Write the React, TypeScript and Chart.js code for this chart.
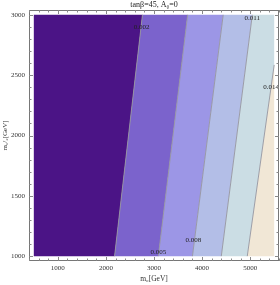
import React, { useEffect, useRef } from "react";
import { Chart, registerables } from "chart.js";

Chart.register(...registerables);

// Domain of the contour plot
const m0Range = [500, 5500];
const m12Range = [1000, 3000];
// Axis (frame) range incl. padding
const xAxisRange = [400, 5600];
const yAxisRange = [960, 3040];

const xTickLabels = [1000, 2000, 3000, 4000, 5000];
const yTickLabels = [1000, 1500, 2000, 2500, 3000];
const xMinorStep = 200;
const yMinorStep = 100;

// Contour boundaries [m0, m12], bottom to top
const contourLevels = ["0.002", "0.005", "0.008", "0.011", "0.014"];
const boundary1 = [[2180, 1000], [2760, 3000]];
const boundary2 = [[3090, 1000], [3700, 3000]];
const boundary3 = [[3800, 1000], [4440, 3000]];
const boundary4 = [[4400, 1000], [5045, 3000]];
const boundary5 = [[4940, 1000], [5500, 2585]];
const boundaries = [boundary1, boundary2, boundary3, boundary4, boundary5];

// Label anchor positions [m0, m12]
const labelPositions = [[2740, 2895], [3093, 1031], [3820, 1130], [5044, 2973], [5438, 2400]];

const regionColors = ["#4b1486", "#7b63cc", "#9c96e6", "#b3bee7", "#cbdde4", "#f1e7d6"];

const serif = "'Liberation Serif', 'DejaVu Serif', serif";

function closeBoundary(b: number[][]) {
  const pts = b.map((p) => [p[0], p[1]]);
  const last = pts[pts.length - 1];
  if (last[1] < m12Range[1]) pts.push([m0Range[1], m12Range[1]]);
  return pts;
}

export default function App() {
  const ref = useRef<HTMLCanvasElement>(null);
  useEffect(() => {
    if (!ref.current) return;
    const leftEdge = [[m0Range[0], m12Range[0]], [m0Range[0], m12Range[1]]];
    const rightEdge = [[m0Range[1], m12Range[0]], [m0Range[1], m12Range[1]]];
    const edges = [leftEdge, ...boundaries.map(closeBoundary), rightEdge];
    const regionSets: any[] = [];
    for (let i = 0; i < edges.length - 1; i++) {
      const l = edges[i];
      const r = edges[i + 1].slice().reverse();
      const pts = [...l, ...r, l[0]].map((p) => ({ x: p[0], y: p[1] }));
      regionSets.push({
        data: pts,
        backgroundColor: regionColors[i],
        borderWidth: 0,
        borderColor: regionColors[i],
        pointRadius: 0,
        fill: "shape",
        tension: 0,
        order: 2,
      });
    }
    const lineSets = boundaries.map((b) => ({
      data: b.map((p) => ({ x: p[0], y: p[1] })),
      borderColor: "rgba(150,150,160,0.9)",
      borderWidth: 1,
      pointRadius: 0,
      fill: false,
      tension: 0,
      order: 1,
    }));

    const framePlugin = {
      id: "frame",
      afterDatasetsDraw(chart: any) {
        const { ctx, chartArea: a, scales } = chart;
        const xs = scales.x;
        const ys = scales.y;
        ctx.save();
        // contour labels
        ctx.fillStyle = "#222";
        ctx.font = `7px ${serif}`;
        ctx.textAlign = "center";
        ctx.textBaseline = "middle";
        labelPositions.forEach((p, i) => {
          ctx.fillText(contourLevels[i], xs.getPixelForValue(p[0]), ys.getPixelForValue(p[1]));
        });
        // frame
        ctx.strokeStyle = "#777";
        ctx.lineWidth = 1;
        ctx.strokeRect(Math.round(a.left) + 0.5, Math.round(a.top) + 0.5, Math.round(a.right - a.left) - 1, Math.round(a.bottom - a.top) - 1);
        ctx.strokeStyle = "#888";
        ctx.beginPath();
        for (let v = 400; v <= 5600; v += xMinorStep) {
          const len = v % 1000 === 0 ? 4 : 2.5;
          const px = Math.round(xs.getPixelForValue(v)) + 0.5;
          ctx.moveTo(px, a.bottom);
          ctx.lineTo(px, a.bottom - len);
          ctx.moveTo(px, a.top);
          ctx.lineTo(px, a.top + len);
        }
        for (let v = 1000; v <= 3000; v += yMinorStep) {
          const len = v % 500 === 0 ? 4 : 2.5;
          const py = Math.round(ys.getPixelForValue(v)) + 0.5;
          ctx.moveTo(a.left, py);
          ctx.lineTo(a.left + len, py);
          ctx.moveTo(a.right, py);
          ctx.lineTo(a.right - len, py);
        }
        ctx.stroke();
        ctx.restore();
      },
    };

    const chart = new Chart(ref.current, {
      type: "line",
      data: { datasets: [...regionSets, ...lineSets] as any },
      plugins: [framePlugin],
      options: {
        animation: false,
        responsive: false,
        maintainAspectRatio: false,
        parsing: true,
        layout: { padding: { top: 0, right: 1, bottom: 0, left: 0 } },
        plugins: {
          legend: { display: false },
          tooltip: { enabled: false },
          title: {
            display: true,
            text: "tanβ=45, A₀=0",
            color: "#222",
            font: { family: serif, size: 8, lineHeight: 1.25, weight: "normal" },
            padding: 0,
            fullSize: false,
          },
        },
        scales: {
          x: {
            type: "linear",
            min: xAxisRange[0],
            max: xAxisRange[1],
            grid: { display: false, drawTicks: false },
            border: { display: false },
            afterBuildTicks: (axis: any) => {
              axis.ticks = xTickLabels.map((v) => ({ value: v }));
            },
            afterFit: (axis: any) => {
              axis.height = 24;
            },
            ticks: {
              color: "#333",
              font: { family: serif, size: 7 },
              padding: 3,
              maxRotation: 0,
              autoSkip: false,
              callback: (v: any) => String(v),
            },
            title: {
              display: true,
              text: "m₀[GeV]",
              color: "#333",
              font: { family: serif, size: 7.5 },
              padding: { top: 0, bottom: 1 },
            },
          },
          y: {
            type: "linear",
            min: yAxisRange[0],
            max: yAxisRange[1],
            grid: { display: false, drawTicks: false },
            border: { display: false },
            afterBuildTicks: (axis: any) => {
              axis.ticks = yTickLabels.map((v) => ({ value: v }));
            },
            afterFit: (axis: any) => {
              axis.width = 29;
            },
            ticks: {
              color: "#333",
              font: { family: serif, size: 7 },
              padding: 4,
              autoSkip: false,
              callback: (v: any) => String(v),
            },
            title: {
              display: true,
              text: "m₁/₂[GeV]",
              color: "#333",
              font: { family: serif, size: 7 },
              padding: { top: 1, bottom: 0 },
            },
          },
        },
      },
    });
    return () => chart.destroy();
  }, []);
  return (
    <div style={{ position: "fixed", left: 0, top: 0, width: 280, height: 285, background: "#fff" }}>
      <canvas ref={ref} width={280} height={285} style={{ width: 280, height: 285 }} />
    </div>
  );
}
